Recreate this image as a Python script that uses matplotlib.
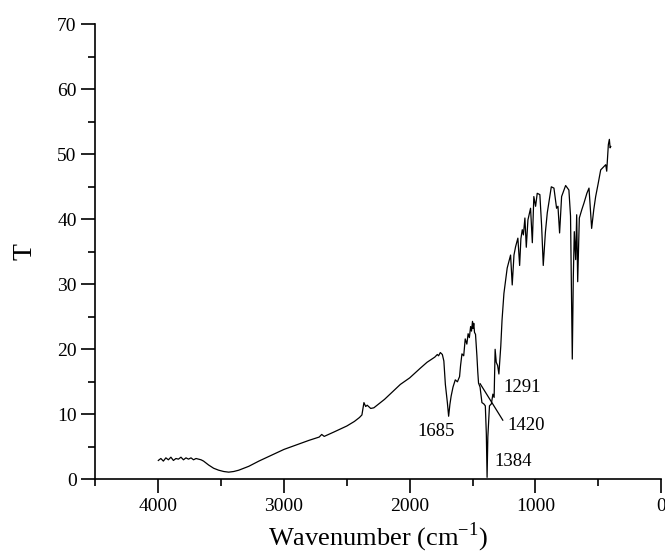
import matplotlib
matplotlib.use("Agg")
import matplotlib.pyplot as plt
from matplotlib.ticker import MultipleLocator

plt.rcParams["font.family"] = ["Liberation Serif", "DejaVu Serif"]
plt.rcParams["mathtext.fontset"] = "custom"
plt.rcParams["mathtext.rm"] = "Liberation Serif"

# IR spectrum (wavenumber in cm-1, transmittance T)
wavenumber = [4000, 3980, 3960, 3940, 3920, 3900, 3880, 3860, 3840, 3820, 3800, 3780, 3760,
              3740, 3720, 3700, 3680, 3660, 3640, 3600, 3560, 3520, 3480, 3440, 3400, 3360,
              3320, 3280, 3200, 3100, 3000, 2900, 2800, 2720, 2700, 2680, 2600, 2500, 2440,
              2400, 2380, 2364, 2350, 2338, 2310, 2285, 2200, 2074, 2000, 1915, 1862, 1800,
              1780, 1770, 1756, 1740, 1728, 1716, 1700, 1690, 1680, 1670, 1655, 1637, 1620,
              1603, 1595, 1584, 1570, 1558, 1545, 1535, 1525, 1515, 1508, 1500, 1495, 1490,
              1484, 1476, 1465, 1458, 1452, 1440, 1430, 1425, 1410, 1398, 1390, 1384, 1378,
              1365, 1350, 1338, 1328, 1320, 1311, 1300, 1290, 1275, 1265, 1250, 1224,
              1197, 1184, 1170, 1157, 1139, 1125, 1115, 1104, 1095, 1083, 1072, 1059, 1038,
              1024, 1012, 998, 985, 964, 950, 937, 920, 905, 873, 852, 831, 820, 807, 791, 759,
              733, 720, 706, 698, 690, 679, 671, 663, 650, 630, 613, 590, 573, 552, 535, 520,
              500, 480, 460, 440, 432, 425, 419, 411, 405, 400]
transmittance = [2.9, 3.2, 2.8, 3.3, 3.0, 3.4, 2.9, 3.2, 3.1, 3.4, 3.0, 3.3, 3.1,
                 3.3, 3.0, 3.2, 3.1, 3.0, 2.8, 2.2, 1.7, 1.4, 1.2, 1.1, 1.2, 1.4,
                 1.7, 2.0, 2.8, 3.7, 4.6, 5.3, 6.0, 6.5, 6.9, 6.6, 7.3, 8.2, 8.9,
                 9.5, 9.9, 11.8, 11.2, 11.4, 10.9, 11.0, 12.3, 14.6, 15.6, 17.1, 18.0, 18.8,
                 19.2, 19.0, 19.5, 19.2, 18.2, 14.6, 11.8, 9.7, 11.5, 12.8, 14.2, 15.3, 15.0,
                 15.8, 17.5, 19.3, 19.0, 21.6, 20.8, 22.4, 21.8, 23.5, 22.8, 24.3, 23.2, 24.0,
                 22.6, 22.3, 19.0, 16.5, 14.8, 14.2, 12.5, 11.8, 11.6, 11.3, 7.0, 0.3, 6.5,
                 11.3, 11.6, 13.1, 12.6, 20.0, 18.0, 17.5, 16.2, 20.5, 24.5, 28.6, 32.5,
                 34.5, 29.9, 34.5, 35.8, 37.1, 32.9, 37.0, 38.4, 37.6, 40.2, 35.7, 39.9, 41.7,
                 36.4, 43.5, 42.0, 44.0, 43.8, 39.0, 32.9, 38.0, 41.0, 45.0, 44.8, 41.7, 42.0,
                 37.9, 43.5, 45.2, 44.5, 40.5, 18.5, 31.0, 38.1, 33.8, 40.7, 30.4, 40.2, 41.5,
                 42.5, 44.0, 44.8, 38.6, 41.5, 43.5, 45.5, 47.6, 48.0, 48.4, 47.4, 49.5, 51.5,
                 52.3, 51.0, 51.2]

# peak labels and where their text sits
peak_labels = ["1685", "1420", "1291", "1384"]
label_wn = [1788, 1074, 1108, 1175]
label_t = [7.4, 8.2, 14.1, 2.7]

fig = plt.figure(figsize=(6.65, 5.55), dpi=100)
ax = fig.add_axes([0.1436, 0.1364, 0.8504, 0.8198])

ax.plot(wavenumber, transmittance, color="black", linewidth=0.9)

for txt, x, y in zip(peak_labels, label_wn, label_t):
    ax.text(x, y, txt, fontsize=13.5, ha="center", va="center")

# leader line for the 1420 band
ax.plot([1439, 1259], [14.7, 9.1], color="black", linewidth=0.9)

ax.set_xlim(4500, 0)
ax.set_ylim(0, 70)
ax.xaxis.set_major_locator(MultipleLocator(1000))
ax.xaxis.set_minor_locator(MultipleLocator(500))
ax.yaxis.set_major_locator(MultipleLocator(10))
ax.yaxis.set_minor_locator(MultipleLocator(5))

ax.spines["top"].set_visible(False)
ax.spines["right"].set_visible(False)
ax.spines["left"].set_linewidth(1.2)
ax.spines["bottom"].set_linewidth(1.2)
ax.tick_params(which="major", direction="out", length=10, width=1.2, labelsize=14, pad=3.5)
ax.tick_params(which="minor", direction="out", length=5, width=1.2)

ax.set_xlabel("Wavenumber (cm$^{\\mathregular{-1}}$)", fontsize=19, labelpad=4)
ax.set_ylabel("T", fontsize=20, labelpad=14)

fig.savefig("out.png", dpi=100)
